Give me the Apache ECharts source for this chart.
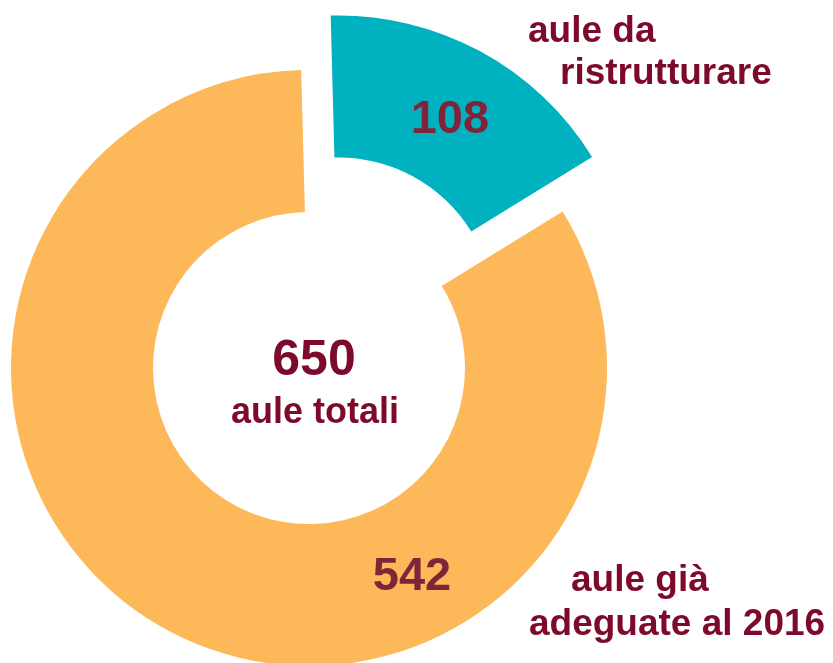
<!DOCTYPE html>
<html>
<head>
<meta charset="utf-8">
<script src="https://cdn.jsdelivr.net/npm/echarts@6/dist/echarts.min.js"></script>
<style>
  html, body { margin: 0; padding: 0; background: #fff; }
  #chart { width: 833px; height: 663px; }
</style>
</head>
<body>
<div id="chart"></div>
<script>
// --- dati ---
const categories = ['aule da ristrutturare', 'aule già adeguate al 2016'];
const values = [108, 542];
const colors = ['#00B2BF', '#FDB85A'];
const totalLabel = '650';
const totalSub = 'aule totali';
const sideLabels = [['aule da', 'ristrutturare'], ['aule già', 'adeguate al 2016']];

const textColor = '#7D0A2A';
const numColor = '#80243A';
const font = '"Liberation Sans", Arial, sans-serif';

const chart = echarts.init(document.getElementById('chart'));

chart.setOption({
  animation: false,
  series: [{
    type: 'pie',
    center: [309, 368],
    radius: [156, 298],
    startAngle: 91.5,
    clockwise: true,
    selectedMode: 'single',
    selectedOffset: 62,
    avoidLabelOverlap: false,
    itemStyle: { borderWidth: 0 },
    label: {
      show: true,
      position: 'inside',
      formatter: '{c}',
      color: numColor,
      fontFamily: font,
      fontWeight: 'bold',
      fontSize: 47,
    },
    labelLine: { show: false },
    emphasis: { disabled: true },
    select: { itemStyle: { borderWidth: 0 } },
    // 108 leggermente più in basso, 542 spostato verso destra
    labelLayout: function (p) {
      if (p.dataIndex === 1) return { x: 412, y: 577 };
      return { dx: 2, dy: 9 };
    },
    data: categories.map((name, i) => ({
      name: name,
      value: values[i],
      selected: i === 0,
      itemStyle: { color: colors[i] },
    })),
  }],
  graphic: [
    { type: 'text', x: 314, y: 361, style: { text: totalLabel, fill: textColor, font: 'bold 50px ' + font, textAlign: 'center', textVerticalAlign: 'middle' } },
    { type: 'text', x: 315, y: 413, style: { text: totalSub, fill: textColor, font: 'bold 36px ' + font, textAlign: 'center', textVerticalAlign: 'middle' } },
    { type: 'text', x: 528, y: 32, style: { text: sideLabels[0][0], fill: textColor, font: 'bold 37px ' + font, textAlign: 'left', textVerticalAlign: 'middle' } },
    { type: 'text', x: 560, y: 74, style: { text: sideLabels[0][1], fill: textColor, font: 'bold 37px ' + font, textAlign: 'left', textVerticalAlign: 'middle' } },
    { type: 'text', x: 571, y: 581, style: { text: sideLabels[1][0], fill: textColor, font: 'bold 37px ' + font, textAlign: 'left', textVerticalAlign: 'middle' } },
    { type: 'text', x: 529, y: 625, style: { text: sideLabels[1][1], fill: textColor, font: 'bold 37px ' + font, textAlign: 'left', textVerticalAlign: 'middle' } },
  ],
});
</script>
</body>
</html>
